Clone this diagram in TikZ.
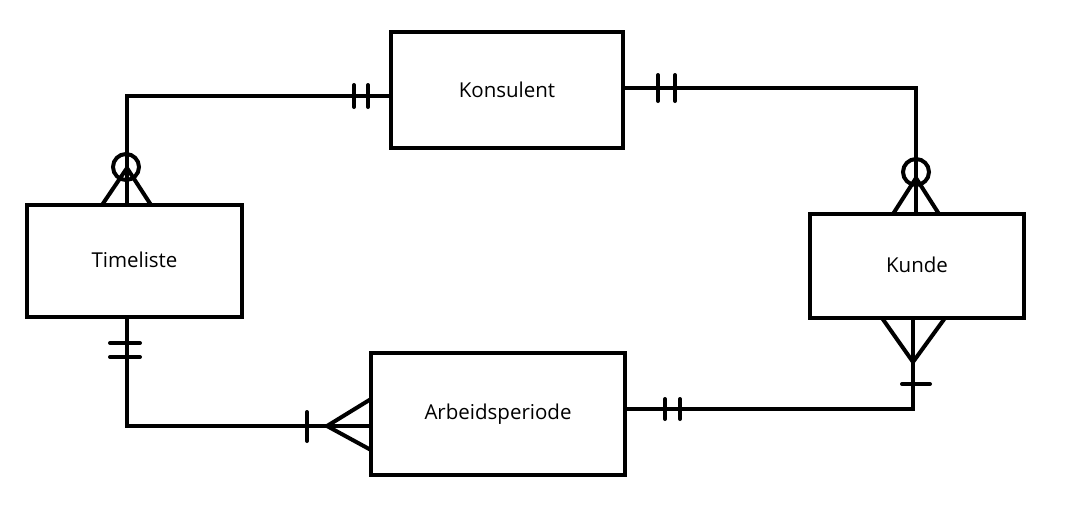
\documentclass[tikz,border=0pt]{standalone}
\usepackage{fontspec}
\setmainfont{Open Sans}
\begin{document}
\begin{tikzpicture}[x=1pt,y=-1pt,
  ent/.style={draw, line width=4pt, inner sep=0pt, outer sep=0pt,
    font=\fontsize{20.5}{24}\selectfont},
  conn/.style={line width=4pt},
  tick/.style={line width=4pt, line cap=round},
  crow/.style={line width=4pt}]
\useasboundingbox (0,0) rectangle (1090,512);
\fill[white] (0,0) rectangle (1090,512);
% entities
\node[ent, minimum width=232pt, minimum height=116pt] (kon) at (507,90) {Konsulent};
\node[ent, minimum width=215pt, minimum height=112pt] (tim) at (134.5,261) {\raisebox{3.5pt}{Timeliste}};
\node[ent, minimum width=214pt, minimum height=104pt] (kun) at (917,266) {\raisebox{3pt}{Kunde}};
\node[ent, minimum width=254pt, minimum height=122pt] (arb) at (498,414) {Arbeidsperiode};
% helper coordinates
\coordinate (x127) at (127,0);
\coordinate (x916) at (916,0);
\coordinate (x913) at (913,0);
\coordinate (y96) at (0,96);
\coordinate (y88) at (0,88);
\coordinate (y426) at (0,426);
\coordinate (y409) at (0,409);
% connectors
\draw[conn] (kon.west |- y96) -| (tim.north -| x127);
\draw[conn] (kon.east |- y88) -| (kun.north -| x916);
\draw[conn] (tim.south -| x127) |- (arb.west |- y426);
\draw[conn] (arb.east |- y409) -| (kun.south -| x913);
% C1: Konsulent -- Timeliste
\draw[tick] (354,85) -- (354,107);
\draw[tick] (368,85) -- (368,107);
\draw[crow] (126,167) circle (13pt);
\draw[crow] (102,205) -- (127,168) -- (151,205);
% C2: Konsulent -- Kunde
\draw[tick] (658,75) -- (658,101);
\draw[tick] (675,75) -- (675,101);
\draw[crow] (916,172) circle (13pt);
\draw[crow] (893,214) -- (916,178) -- (939,214);
% C3: Timeliste -- Arbeidsperiode
\draw[tick] (110,343) -- (140,343);
\draw[tick] (110,357) -- (140,357);
\draw[tick] (307,412) -- (307,441);
\draw[crow] (371,399) -- (327,426) -- (371,450);
% C4: Arbeidsperiode -- Kunde
\draw[tick] (665,399) -- (665,419);
\draw[tick] (680,399) -- (680,419);
\draw[crow] (882,318) -- (913,362) -- (945,318);
\draw[tick] (902,384) -- (930,384);
\end{tikzpicture}
\end{document}
